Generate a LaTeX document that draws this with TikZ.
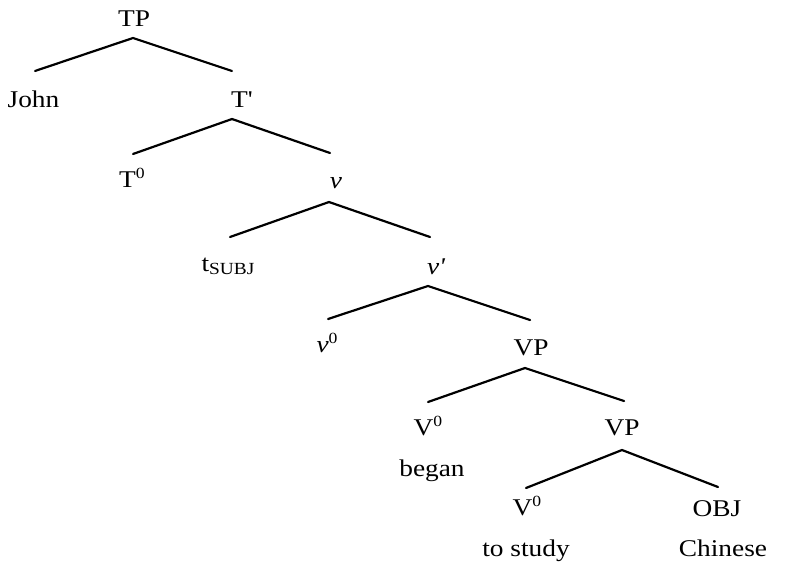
\documentclass[tikz,border=0pt]{standalone}
\usepackage{fontspec}
\usepackage{graphicx}
\setmainfont{Liberation Serif}
\usetikzlibrary{calc}
% slightly widened serif labels
\newcommand{\lab}[1]{\scalebox{1.14}[1]{#1}}
\newcommand{\pr}{\textquotesingle}
% raised zero and lowered index
\newcommand{\supz}{\raisebox{9pt}{\fontsize{15.5}{18}\selectfont\upshape 0}}
\newcommand{\subx}[1]{\raisebox{-3pt}{\fontsize{17}{20}\selectfont #1}}
\tikzset{
  lbl/.style={font=\fontsize{24}{28}\selectfont, inner sep=0pt, anchor=base},
  branch/.style={line width=2.2pt, line cap=round}
}
\begin{document}
\begin{tikzpicture}[x=1pt, y=-1pt]
\useasboundingbox (0,0) rectangle (810,565);
% labels
\node[lbl] (TP)    at (134,26)  {\lab{TP}};
\node[lbl] (John)  at (33.5,107) {\lab{John}};
\node[lbl] (Tbar)  at (242,107) {\lab{T\pr}};
\node[lbl] (Tzero) at (132,187) {\lab{T\supz}};
\node[lbl] (vP)    at (336,188) {\lab{\itshape v}};
\node[lbl] (tsubj) at (228,271) {\lab{t\subx{SUBJ}}};
\node[lbl] (vbar)  at (436,274) {\lab{\itshape v\pr}};
\node[lbl] (vzero) at (327,352) {\lab{\itshape v\supz}};
\node[lbl] (VPa)   at (531,355) {\lab{VP}};
\node[lbl] (Va)    at (428,435) {\lab{V\supz}};
\node[lbl] (began) at (432,476) {\lab{began}};
\node[lbl] (VPb)   at (622,435) {\lab{VP}};
\node[lbl] (Vb)    at (527,515) {\lab{V\supz}};
\node[lbl] (OBJ)   at (717,516) {\lab{OBJ}};
\node[lbl] (study) at (526,556) {\lab{to study}};
\node[lbl] (chin)  at (723,556) {\lab{Chinese}};
% branches
\draw[branch] ($(John.base)+(1.5,-36)$) -- ($(TP.base)+(-1,12)$) -- ($(Tbar.base)+(-10,-36)$);
\draw[branch] ($(Tzero.base)+(1,-33)$) -- ($(Tbar.base)+(-10,12)$) -- ($(vP.base)+(-6,-35)$);
\draw[branch] ($(tsubj.base)+(2,-34)$) -- ($(vP.base)+(-7,14)$) -- ($(vbar.base)+(-6,-37)$);
\draw[branch] ($(vzero.base)+(1,-33)$) -- ($(vbar.base)+(-8,12)$) -- ($(VPa.base)+(-1,-35)$);
\draw[branch] ($(Va.base)+(0,-33)$) -- ($(VPa.base)+(-6,13)$) -- ($(VPb.base)+(2,-34)$);
\draw[branch] ($(Vb.base)+(-1,-27)$) -- ($(VPb.base)+(0,15)$) -- ($(OBJ.base)+(1,-29)$);
\end{tikzpicture}
\end{document}
